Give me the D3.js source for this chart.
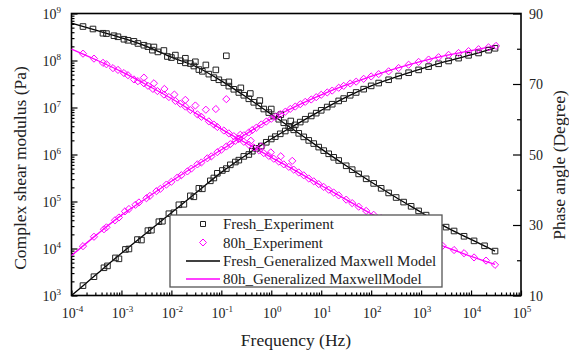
<!DOCTYPE html>
<html><head><meta charset="utf-8">
<script src="https://cdn.jsdelivr.net/npm/d3@7"></script>
<style>
body{margin:0;background:#fff}
svg{display:block}
text{font-family:'Liberation Serif','Times New Roman',Times,serif}
</style>
</head><body>
<svg id="c" width="569" height="358" font-family="Liberation Serif, Times New Roman, serif"></svg>
<script>
// ---- DATA ----  pairs are [log10 frequency (Hz), value]
// modulus values are log10 |G*| (Pa); phase values are degrees
const xTickExponents = [-4,-3,-2,-1,0,1,2,3,4,5];
const yLeftTickExponents = [3,4,5,6,7,8,9];
const yRightTicks = [10,30,50,70,90];
const yRightMinor = [20,40,60,80];

const freshModulusModel = [[-4,3.00],[-3.5,3.45],[-3,3.90],[-2.5,4.33],[-2,4.76],[-1.5,5.19],[-1,5.62],[-0.5,5.99],[0,6.33],[0.5,6.64],[1,6.94],[1.5,7.22],[2,7.46],[2.5,7.65],[3,7.82],[3.5,7.98],[4,8.12],[4.48,8.27]];
const agedModulusModel = [[-4,3.85],[-3.5,4.29],[-3,4.71],[-2.5,5.07],[-2,5.43],[-1.5,5.77],[-1,6.10],[-0.5,6.44],[0,6.76],[0.5,7.03],[1,7.27],[1.5,7.48],[2,7.66],[2.5,7.83],[3,7.98],[3.5,8.11],[4,8.21],[4.48,8.31]];
const freshPhaseModel = [[-4,87.3],[-3.5,85.2],[-3,83.1],[-2.5,80.7],[-2,77.6],[-1.5,74.9],[-1,70.9],[-0.5,66.3],[0,61.4],[0.5,56.5],[1,51.6],[1.5,46.8],[2,42.2],[2.5,37.8],[3,33.6],[3.5,29.4],[4,25.9],[4.48,22.6]];
const agedPhaseModel = [[-4,79.9],[-3.5,76.8],[-3,73.5],[-2.5,69.8],[-2,65.9],[-1.5,61.6],[-1,57.2],[-0.5,53.2],[0,49.2],[0.5,45.3],[1,41.2],[1.5,37.2],[2,33.2],[2.5,29.9],[3,26.8],[3.5,23.7],[4,21.1],[4.48,18.8]];

const freshModulusExp = [[-3.77,3.21],[-3.55,3.40],[-3.35,3.59],[-3.28,3.63],[-3.12,3.80],[-3.05,3.78],[-2.92,3.98],[-2.85,3.99],[-2.68,4.19],[-2.6,4.18],[-2.47,4.38],[-2.4,4.39],[-2.25,4.57],[-2.18,4.58],[-2.05,4.74],[-1.95,4.76],[-1.85,4.93],[-1.75,4.94],[-1.62,5.12],[-1.55,5.10],[-1.45,5.28],[-1.38,5.27],[-1.22,5.44],[-1.15,5.50],[-1.08,5.60],[-0.98,5.66],[-0.9,5.70],[-0.82,5.78],[-0.72,5.84],[-0.65,5.88],[-0.55,5.96],[-0.45,6.00],[-0.38,6.07],[-0.3,6.13],[-0.2,6.18],[-0.1,6.26],[0.0,6.33],[0.08,6.38],[0.18,6.44],[0.28,6.50],[0.38,6.57],[0.48,6.63],[0.58,6.69],[0.68,6.75],[0.8,6.82],[0.9,6.88],[1.0,6.94],[1.12,7.01],[1.22,7.07],[1.35,7.14],[1.45,7.19],[1.58,7.26],[1.7,7.32],[1.85,7.39],[2.0,7.46],[2.15,7.52],[2.35,7.59],[2.55,7.67],[2.75,7.74],[2.95,7.80],[3.15,7.87],[3.35,7.93],[3.55,7.99],[3.75,8.05],[3.95,8.11],[4.15,8.16],[4.35,8.22],[4.48,8.26]];
const agedModulusExp = [[-3.77,4.05],[-3.55,4.25],[-3.35,4.41],[-3.3,4.45],[-3.13,4.60],[-3.05,4.66],[-2.93,4.79],[-2.85,4.84],[-2.72,4.93],[-2.65,4.98],[-2.5,5.07],[-2.43,5.12],[-2.3,5.22],[-2.22,5.27],[-2.1,5.36],[-2.0,5.42],[-1.88,5.51],[-1.8,5.56],[-1.68,5.64],[-1.6,5.70],[-1.48,5.79],[-1.4,5.83],[-1.28,5.92],[-1.2,5.96],[-1.08,6.05],[-1.0,6.10],[-0.9,6.17],[-0.82,6.22],[-0.72,6.29],[-0.65,6.34],[-0.55,6.41],[-0.45,6.47],[-0.38,6.52],[-0.3,6.57],[-0.2,6.64],[-0.1,6.70],[0.0,6.76],[0.08,6.80],[0.18,6.86],[0.28,6.91],[0.38,6.97],[0.48,7.02],[0.58,7.07],[0.68,7.12],[0.8,7.17],[0.9,7.22],[1.0,7.27],[1.12,7.32],[1.22,7.36],[1.35,7.42],[1.45,7.46],[1.58,7.51],[1.7,7.55],[1.85,7.61],[2.0,7.66],[2.15,7.71],[2.35,7.77],[2.55,7.84],[2.75,7.91],[2.95,7.97],[3.15,8.02],[3.35,8.07],[3.55,8.12],[3.75,8.16],[3.95,8.20],[4.15,8.24],[4.35,8.28],[4.5,8.31]];
const freshPhaseExp = [[-3.77,86.3],[-3.57,85.6],[-3.37,84.4],[-3.3,84.3],[-3.15,83.7],[-3.07,83.4],[-2.95,82.7],[-2.87,82.4],[-2.75,82.1],[-2.67,81.5],[-2.55,81.0],[-2.47,80.6],[-2.38,79.6],[-2.27,79.1],[-2.08,77.8],[-2.0,77.5],[-1.82,76.6],[-1.72,76.0],[-1.62,75.8],[-1.55,75.1],[-1.45,74.1],[-1.38,73.6],[-1.25,72.8],[-1.15,71.8],[-1.05,71.2],[-0.95,70.4],[-0.85,69.4],[-0.75,68.5],[-0.65,67.6],[-0.55,66.8],[-0.45,65.8],[-0.35,64.8],[-0.25,63.8],[-0.15,62.9],[-0.05,61.9],[0.05,60.9],[0.15,60.0],[0.25,59.0],[0.35,58.0],[0.45,57.0],[0.55,56.0],[0.65,55.0],[0.75,54.0],[0.85,53.1],[0.95,52.1],[1.05,51.1],[1.15,50.2],[1.25,49.2],[1.35,48.3],[1.5,46.8],[1.62,45.7],[1.75,44.5],[1.9,43.1],[2.05,41.8],[2.2,40.4],[2.35,39.1],[2.5,37.8],[2.65,36.5],[2.8,35.3],[2.95,34.0],[3.1,32.8],[3.3,31.1],[3.5,29.4],[3.66,28.3],[3.86,26.8],[4.06,25.5],[4.27,24.1],[4.48,22.6],
  [-2.35,80.5],[-2.15,79.5],[-1.92,78.2],[-1.72,77.3],[-1.52,76.3],[-1.31,75.4],[-1.11,74.0],[-0.9,78.0],[-0.85,70.6],[-0.61,68.9],[-0.42,67.3],[-0.23,65.3],[0.0,62.9],[0.19,61.3],[0.39,59.5]];
const agedPhaseExp = [[-3.77,78.6],[-3.55,77.2],[-3.37,76.0],[-3.3,75.6],[-3.17,74.5],[-3.07,74.0],[-2.95,73.1],[-2.87,72.5],[-2.75,71.3],[-2.67,70.8],[-2.55,70.2],[-2.47,69.5],[-2.37,68.6],[-2.28,68.0],[-2.15,67.0],[-2.05,66.3],[-1.92,65.2],[-1.82,64.4],[-1.72,63.6],[-1.62,62.6],[-1.48,61.4],[-1.4,60.7],[-1.25,59.4],[-1.15,58.5],[-1.08,57.8],[-0.95,56.8],[-0.85,56.0],[-0.75,55.2],[-0.65,54.4],[-0.55,53.6],[-0.45,52.8],[-0.35,52.0],[-0.25,51.2],[-0.15,50.4],[-0.05,49.6],[0.05,48.8],[0.15,48.0],[0.25,47.2],[0.35,46.5],[0.45,45.7],[0.55,44.9],[0.65,44.1],[0.75,43.2],[0.85,42.4],[0.95,41.6],[1.05,40.8],[1.15,40.0],[1.25,39.2],[1.35,38.4],[1.5,37.2],[1.62,36.2],[1.75,35.2],[1.9,34.0],[2.05,32.9],[2.2,31.9],[2.35,30.9],[2.5,29.9],[2.65,29.0],[2.8,28.0],[2.95,27.1],[3.1,26.2],[3.28,25.0],[3.43,24.1],[3.66,22.9],[3.86,22.0],[4.06,20.8],[4.3,19.9],[4.48,18.7],
  [-2.55,71.8],[-2.35,70.2],[-2.14,68.6],[-1.94,67.0],[-1.72,65.5],[-1.52,63.9],[-1.31,62.7],[-1.11,62.9],[-0.9,65.7],[-0.62,55.6],[-0.41,53.9],[-0.2,52.3],[-0.01,50.6],[0.19,49.5],[0.42,48.2]];

const legendLabels = ["Fresh_Experiment","80h_Experiment","Fresh_Generalized Maxwell Model","80h_Generalized MaxwellModel"];
const BLACK = "#000", MAG = "#ff00ff";
const FONT = "'Liberation Serif', 'Times New Roman', Times, serif";

// ---- CHART ----
const svg = d3.select("#c");
const m = {l:71.5, r:521, t:13.5, b:295.5};
const x = d3.scaleLog().domain([1e-4,1e5]).range([m.l,m.r]);
const yL = d3.scaleLog().domain([1e3,1e9]).range([m.b,m.t]);
const yR = d3.scaleLinear().domain([10,90]).range([m.b,m.t]);

const xMaj = xTickExponents.map(e => Math.pow(10,e));
const xMin = [];
xTickExponents.slice(0,-1).forEach(e => { for (let k=2;k<10;k++) xMin.push(k*Math.pow(10,e)); });
const yMaj = yLeftTickExponents.map(e => Math.pow(10,e));
const yMin = [];
yLeftTickExponents.slice(0,-1).forEach(e => { for (let k=2;k<10;k++) yMin.push(k*Math.pow(10,e)); });

function styleAxis(g){ g.select(".domain").remove(); g.selectAll("line").attr("stroke","#000").attr("stroke-width",1.2); }

svg.append("g").attr("transform",`translate(0,${m.b})`).call(d3.axisBottom(x).tickValues(xMaj).tickSize(-5).tickFormat("")).call(styleAxis);
svg.append("g").attr("transform",`translate(0,${m.b})`).call(d3.axisBottom(x).tickValues(xMin).tickSize(-3).tickFormat("")).call(styleAxis);
svg.append("g").attr("transform",`translate(${m.l},0)`).call(d3.axisLeft(yL).tickValues(yMaj).tickSize(-6).tickFormat("")).call(styleAxis);
svg.append("g").attr("transform",`translate(${m.l},0)`).call(d3.axisLeft(yL).tickValues(yMin).tickSize(-3).tickFormat("")).call(styleAxis);
svg.append("g").attr("transform",`translate(${m.r},0)`).call(d3.axisRight(yR).tickValues(yRightTicks).tickSize(-8).tickFormat("")).call(styleAxis);
svg.append("g").attr("transform",`translate(${m.r},0)`).call(d3.axisRight(yR).tickValues(yRightMinor).tickSize(-4).tickFormat("")).call(styleAxis);

svg.append("rect").attr("x",m.l).attr("y",m.t).attr("width",m.r-m.l).attr("height",m.b-m.t)
  .attr("fill","none").attr("stroke","#000").attr("stroke-width",1.6);

function txt(){ return svg.append("text").attr("font-family",FONT).attr("fill","#222"); }

// tick labels
function pow10Label(sel, exp){
  sel.append("tspan").text("10");
  sel.append("tspan").attr("dy",-6).attr("font-size",9).text(String(exp));
}
xTickExponents.forEach(e => {
  const t = txt().attr("x",x(Math.pow(10,e))+1).attr("y",318).attr("text-anchor","middle").attr("font-size",14);
  pow10Label(t,e);
});
yLeftTickExponents.forEach(e => {
  const t = txt().attr("x",61).attr("y",yL(Math.pow(10,e))+5).attr("text-anchor","end").attr("font-size",14);
  pow10Label(t,e);
});
yRightTicks.forEach(v => {
  txt().attr("x",529).attr("y",yR(v)+5).attr("font-size",14).text(v);
});

// axis titles
txt().attr("transform","translate(26,168) rotate(-90)").attr("text-anchor","middle").attr("font-size",17.5).text("Complex shear modulus (Pa)");
txt().attr("transform","translate(565,165) rotate(-90)").attr("text-anchor","middle").attr("font-size",17.5).text("Phase angle (Degree)");
txt().attr("x",296).attr("y",346).attr("text-anchor","middle").attr("font-size",17.5).text("Frequency (Hz)");

// model lines
const lineMod = d3.line().x(d => x(Math.pow(10,d[0]))).y(d => yL(Math.pow(10,d[1]))).curve(d3.curveMonotoneX);
const linePh = d3.line().x(d => x(Math.pow(10,d[0]))).y(d => yR(d[1])).curve(d3.curveMonotoneX);
const plot = svg.append("g");
plot.append("path").attr("d",lineMod(freshModulusModel)).attr("fill","none").attr("stroke",BLACK).attr("stroke-width",1.3);
plot.append("path").attr("d",linePh(freshPhaseModel)).attr("fill","none").attr("stroke",BLACK).attr("stroke-width",1.3);
plot.append("path").attr("d",lineMod(agedModulusModel)).attr("fill","none").attr("stroke",MAG).attr("stroke-width",1.3);
plot.append("path").attr("d",linePh(agedPhaseModel)).attr("fill","none").attr("stroke",MAG).attr("stroke-width",1.3);

// markers
const sq = "M-2.8,-2.8H2.8V2.8H-2.8Z";
const dm = "M0,-3.6L3.6,0L0,3.6L-3.6,0Z";
function markers(data, yf, path, color){
  plot.append("g").selectAll("path").data(data).join("path")
    .attr("transform", d => `translate(${x(Math.pow(10,d[0]))},${yf(d[1])})`)
    .attr("d", path).attr("fill","none").attr("stroke",color).attr("stroke-width",1);
}
markers(freshModulusExp, v => yL(Math.pow(10,v)), sq, "#222");
markers(freshPhaseExp, v => yR(v), sq, "#222");
markers(agedModulusExp, v => yL(Math.pow(10,v)), dm, MAG);
markers(agedPhaseExp, v => yR(v), dm, MAG);

// legend
const lg = svg.append("g");
lg.append("rect").attr("x",170).attr("y",215).attr("width",272).attr("height",72).attr("fill","#fff").attr("stroke","#555").attr("stroke-width",1.3);
const rowsY = [224, 242.5, 261, 279];
lg.append("path").attr("transform",`translate(203,${rowsY[0]})`).attr("d","M-2.5,-2.5H2.5V2.5H-2.5Z").attr("fill","none").attr("stroke","#222");
lg.append("path").attr("transform",`translate(203,${rowsY[1]})`).attr("d","M0,-3.5L3.5,0L0,3.5L-3.5,0Z").attr("fill","none").attr("stroke",MAG);
lg.append("line").attr("x1",186).attr("x2",220).attr("y1",rowsY[2]).attr("y2",rowsY[2]).attr("stroke",BLACK).attr("stroke-width",1.4);
lg.append("line").attr("x1",186).attr("x2",220).attr("y1",rowsY[3]).attr("y2",rowsY[3]).attr("stroke",MAG).attr("stroke-width",1.4);
legendLabels.forEach((t,i) => {
  lg.append("text").attr("font-family",FONT).attr("fill","#222").attr("x",223).attr("y",rowsY[i]+5).attr("font-size",15).text(t);
});
</script>
</body></html>
